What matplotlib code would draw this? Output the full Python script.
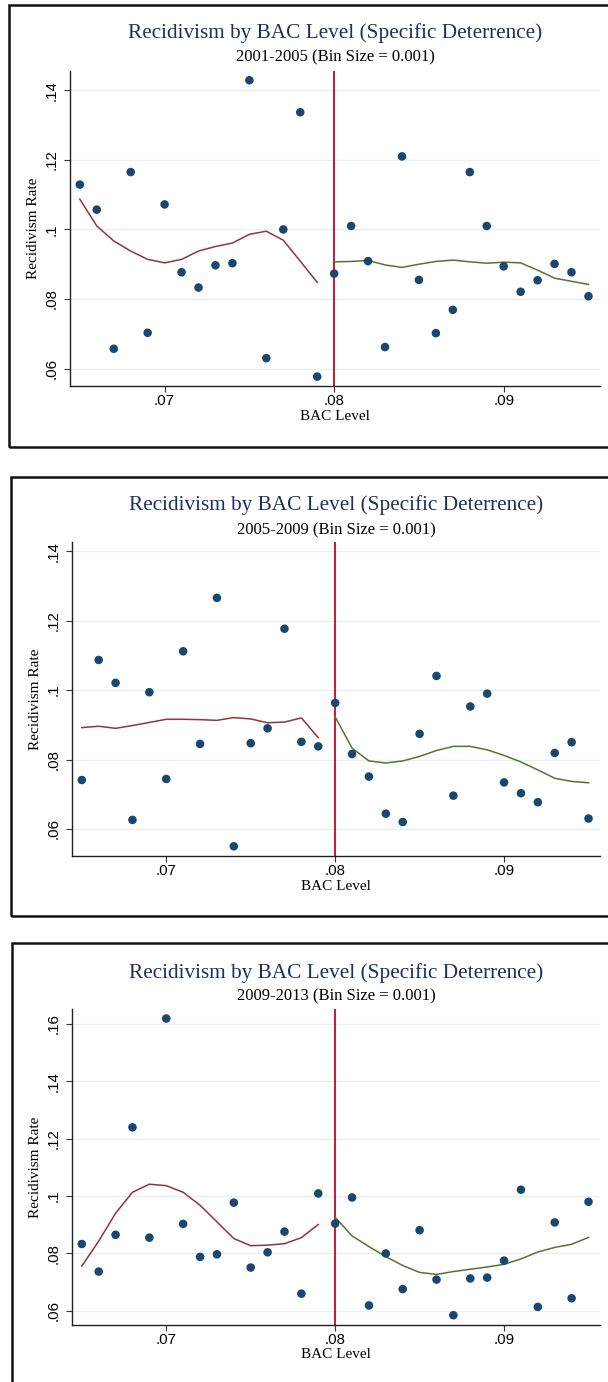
import matplotlib
matplotlib.use("Agg")
import matplotlib.pyplot as plt
from matplotlib.patches import Rectangle
import numpy as np

# ---------------- data ----------------
bac = [0.065, 0.066, 0.067, 0.068, 0.069, 0.070, 0.071, 0.072, 0.073, 0.074,
       0.075, 0.076, 0.077, 0.078, 0.079, 0.080, 0.081, 0.082, 0.083, 0.084,
       0.085, 0.086, 0.087, 0.088, 0.089, 0.090, 0.091, 0.092, 0.093, 0.094, 0.095]
bac_left = bac[:15]
bac_right = bac[15:]

titles = ["2001-2005 (Bin Size = 0.001)",
          "2005-2009 (Bin Size = 0.001)",
          "2009-2013 (Bin Size = 0.001)"]

rate_2001 = [0.1129, 0.1057, 0.0657, 0.1165, 0.0703, 0.1072, 0.0877, 0.0833, 0.0897, 0.0903,
             0.1429, 0.0630, 0.1000, 0.1337, 0.0577, 0.0873, 0.1010, 0.0909, 0.0662, 0.1210,
             0.0855, 0.0702, 0.0769, 0.1165, 0.1010, 0.0894, 0.0821, 0.0854, 0.0901, 0.0877, 0.0808]
fit_left_2001 = [0.1087, 0.1010, 0.0967, 0.0938, 0.0914, 0.0904, 0.0914, 0.0938, 0.0951, 0.0961,
                 0.0986, 0.0995, 0.0969, 0.0909, 0.0848]
fit_right_2001 = [0.0907, 0.0908, 0.0911, 0.0898, 0.0891, 0.0900, 0.0908, 0.0912, 0.0907, 0.0903,
                  0.0906, 0.0904, 0.0883, 0.0860, 0.0851, 0.0842]

rate_2005 = [0.0741, 0.1087, 0.1021, 0.0626, 0.0994, 0.0744, 0.1112, 0.0845, 0.1266, 0.0550,
             0.0847, 0.0890, 0.1177, 0.0851, 0.0838, 0.0963, 0.0816, 0.0751, 0.0644, 0.0620,
             0.0874, 0.1041, 0.0696, 0.0953, 0.0990, 0.0734, 0.0703, 0.0677, 0.0819, 0.0850, 0.0630]
fit_left_2005 = [0.0892, 0.0896, 0.0890, 0.0898, 0.0907, 0.0916, 0.0916, 0.0915, 0.0913, 0.0921,
                 0.0917, 0.0906, 0.0908, 0.0920, 0.0863]
fit_right_2005 = [0.0923, 0.0833, 0.0796, 0.0790, 0.0796, 0.0809, 0.0826, 0.0838, 0.0838, 0.0828,
                  0.0812, 0.0793, 0.0770, 0.0746, 0.0737, 0.0733]

rate_2009 = [0.0833, 0.0737, 0.0865, 0.1239, 0.0855, 0.1618, 0.0903, 0.0788, 0.0797, 0.0977,
             0.0751, 0.0804, 0.0876, 0.0660, 0.1009, 0.0904, 0.0995, 0.0619, 0.0800, 0.0676,
             0.0881, 0.0709, 0.0585, 0.0713, 0.0716, 0.0775, 0.1022, 0.0614, 0.0908, 0.0644, 0.0980]
fit_left_2009 = [0.0756, 0.0843, 0.0940, 0.1013, 0.1041, 0.1036, 0.1013, 0.0968, 0.0910, 0.0852,
                 0.0827, 0.0829, 0.0834, 0.0855, 0.0901]
fit_right_2009 = [0.0926, 0.0861, 0.0824, 0.0789, 0.0758, 0.0734, 0.0727, 0.0737, 0.0745, 0.0753,
                  0.0762, 0.0781, 0.0805, 0.0821, 0.0832, 0.0856]

xticks = [0.07, 0.08, 0.09]
xticklabels = [".07", ".08", ".09"]
yticks_12 = [0.06, 0.08, 0.10, 0.12, 0.14]
yticklabels_12 = [".06", ".08", ".1", ".12", ".14"]
yticks_3 = [0.06, 0.08, 0.10, 0.12, 0.14, 0.16]
yticklabels_3 = [".06", ".08", ".1", ".12", ".14", ".16"]

main_title = "Recidivism by BAC Level (Specific Deterrence)"
xlabel = "BAC Level"
ylabel = "Recidivism Rate"

# ---------------- style ----------------
W, H = 608, 1382
fig = plt.figure(figsize=(W / 100, H / 100), dpi=100)
fig.patch.set_facecolor("white")

serif = ["Liberation Serif", "DejaVu Serif"]
sans = ["Liberation Sans", "DejaVu Sans"]
title_col = "#1f2f5e"
dot_col = "#1a476f"
left_col = "#90353b"
right_col = "#55752f"
cut_col = "#c8143c"
grid_col = "#e8f0f1"

panels = [
    dict(rate=rate_2001, fl=fit_left_2001, fr=fit_right_2001, sub=titles[0],
         yt=yticks_12, ytl=yticklabels_12, ylim=(0.0550, 0.1457),
         ax_px=(70, 70.5, 600, 386), title_y=33, sub_y=57.5,
         frame=(8.5, 5, 700, 446.5)),
    dict(rate=rate_2005, fl=fit_left_2005, fr=fit_right_2005, sub=titles[1],
         yt=yticks_12, ytl=yticklabels_12, ylim=(0.0522, 0.1427),
         ax_px=(72, 542, 600, 856), title_y=505, sub_y=530,
         frame=(11, 477, 700, 916)),
    dict(rate=rate_2009, fl=fit_left_2009, fr=fit_right_2009, sub=titles[2],
         yt=yticks_3, ytl=yticklabels_3, ylim=(0.0552, 0.1650),
         ax_px=(72, 1009.3, 600, 1324.7), title_y=972.7, sub_y=996.7,
         frame=(11.5, 943, 700, 1500)),
]

for p in panels:
    x0, y0, x1, y1 = p["ax_px"]
    ax = fig.add_axes([x0 / W, 1 - y1 / H, (x1 - x0) / W, (y1 - y0) / H])
    ax.set_facecolor("white")
    ax.set_xlim(0.06442, 0.09568)
    ax.set_ylim(*p["ylim"])
    for yv in p["yt"]:
        ax.axhline(yv, color=grid_col, lw=1.0, zorder=0)
    ax.axvline(0.08, color=cut_col, lw=1.4, zorder=2)
    ax.plot(bac_left, p["fl"], color=left_col, lw=1.1, zorder=3)
    ax.plot(bac_right, p["fr"], color=right_col, lw=1.1, zorder=3)
    ax.scatter(bac, p["rate"], s=38, color=dot_col, edgecolors="none", zorder=4)

    ax.set_xticks(xticks)
    ax.set_xticklabels(xticklabels, fontfamily=sans, fontsize=10.8)
    ax.set_yticks(p["yt"])
    ax.set_yticklabels(p["ytl"], fontfamily=sans, fontsize=10.8,
                       rotation=90, va="center")
    ax.tick_params(axis="x", length=4, width=0.8, color="#333333", pad=2)
    ax.tick_params(axis="y", length=4.5, width=0.8, color="#333333", pad=4)
    for s in ["top", "right"]:
        ax.spines[s].set_visible(False)
    for s in ["left", "bottom"]:
        ax.spines[s].set_color("#222222")
        ax.spines[s].set_linewidth(1.0)
    ax.set_xlabel(xlabel, fontfamily=serif, fontsize=11, labelpad=1)
    ax.set_ylabel(ylabel, fontfamily=serif, fontsize=11, labelpad=3)

    cx = (x0 + x1) / 2 / W
    fig.text(cx, 1 - p["title_y"] / H, main_title, ha="center", va="center",
             fontfamily=serif, fontsize=15.3, color=title_col)
    fig.text(cx, 1 - p["sub_y"] / H, p["sub"], ha="center", va="center",
             fontfamily=serif, fontsize=12, color="black")

    fx0, fy0, fx1, fy1 = p["frame"]
    fig.patches.append(Rectangle((fx0 / W, 1 - fy1 / H), (fx1 - fx0) / W, (fy1 - fy0) / H,
                                 transform=fig.transFigure, fill=False,
                                 edgecolor="#111111", lw=1.8, zorder=10))

fig.savefig("out.png", dpi=100)
